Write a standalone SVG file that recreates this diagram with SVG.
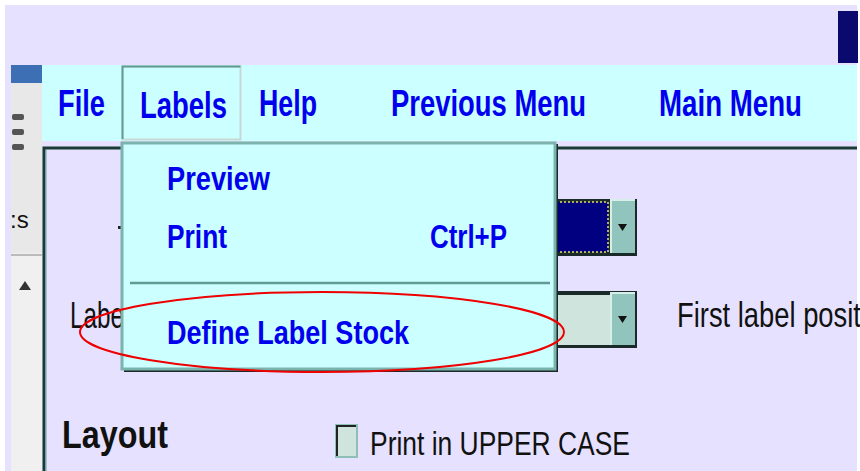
<svg xmlns="http://www.w3.org/2000/svg" width="860" height="471" viewBox="0 0 860 471">
<defs>
<style>
.menu{font-family:"Liberation Sans",Arial,sans-serif;font-weight:bold;fill:#0000EE;}
.lbl{font-family:"Liberation Sans",Arial,sans-serif;fill:#111;}
</style>
</defs>
<rect x="0" y="0" width="860" height="471" fill="#FFFFFF"/>
<rect x="5" y="5" width="852" height="466" fill="#E6E1FE"/>
<g id="top-right-block"><rect x="838" y="11" width="20" height="52" fill="#0A0A6E"/></g>
<g id="left-strip">
<rect x="11" y="65" width="31" height="406" fill="#F0F0F0"/>
<rect x="11" y="65" width="31" height="18" fill="#3C6FB4"/>
<rect x="11" y="83" width="31" height="170" fill="#E8E8E8"/>
<rect x="12" y="114" width="12" height="6" rx="2" fill="#555"/>
<rect x="12" y="129" width="12" height="6" rx="2" fill="#555"/>
<rect x="12" y="144" width="12" height="6" rx="2" fill="#555"/>
<text x="10" y="228" class="lbl" font-size="24" fill="#333">:s</text>
<line x1="11" y1="255" x2="42" y2="255" stroke="#BBB" stroke-width="2"/>
<path d="M19 290 L25 281 L31 290 Z" fill="#333"/>
</g>
<g id="menubar">
<rect x="42" y="65" width="815" height="76" fill="#CCFFFF"/>
<rect x="122.5" y="66.5" width="118" height="73" fill="#CCFFFF" stroke="#C8D8D4" stroke-width="2"/>
<path d="M122.5 139 V66.5 H240.5" fill="none" stroke="#5E9C94" stroke-width="2"/>
<text x="58" y="116" class="menu" font-size="36" textLength="47" lengthAdjust="spacingAndGlyphs">File</text>
<text x="140" y="118" class="menu" font-size="36" textLength="87" lengthAdjust="spacingAndGlyphs">Labels</text>
<text x="259" y="116" class="menu" font-size="36" textLength="58" lengthAdjust="spacingAndGlyphs">Help</text>
<text x="391" y="116" class="menu" font-size="36" textLength="195" lengthAdjust="spacingAndGlyphs">Previous Menu</text>
<text x="659" y="116" class="menu" font-size="36" textLength="143" lengthAdjust="spacingAndGlyphs">Main Menu</text>
</g>
<g id="panel">
<path d="M44 471 V148 H857" fill="none" stroke="#1A3A36" stroke-width="3"/>
<line x1="46" y1="150" x2="46" y2="471" stroke="#6FA8A0" stroke-width="1"/>
<rect x="118" y="226" width="4" height="3" fill="#222"/>
<text x="70" y="328" class="lbl" font-size="36" textLength="54" lengthAdjust="spacingAndGlyphs">Labe</text>
<text x="677" y="327" class="lbl" font-size="35" textLength="190" lengthAdjust="spacingAndGlyphs">First label positi</text>
<text x="62" y="448" class="lbl" font-size="38" font-weight="bold" textLength="106" lengthAdjust="spacingAndGlyphs" fill="#000">Layout</text>
<rect x="336" y="425" width="21" height="32" fill="#D0E4DE" stroke="#8FC0B8" stroke-width="2"/>
<path d="M337 456 V426 H356" fill="none" stroke="#222" stroke-width="2"/>
<text x="370" y="455" class="lbl" font-size="34" textLength="260" lengthAdjust="spacingAndGlyphs">Print in UPPER CASE</text>
</g>
<g id="dropdown-1">
<rect x="540" y="199" width="97" height="57" fill="#1A2A28"/>
<rect x="540" y="202" width="68" height="50" fill="#000080" stroke="#E8E070" stroke-width="1.5" stroke-dasharray="2 2"/>
<rect x="611" y="200" width="24" height="53" fill="#90C4BC"/>
<path d="M611 253 V200 H635" fill="none" stroke="#D8EEEA" stroke-width="2"/>
<path d="M618 224 H627 L622.5 231 Z" fill="#111"/>
</g>
<g id="dropdown-2">
<rect x="540" y="291" width="97" height="57" fill="#1A2A28"/>
<rect x="540" y="295" width="70" height="50" fill="#D0E4DE"/>
<rect x="611" y="293" width="24" height="52" fill="#90C4BC"/>
<path d="M611 345 V293 H635" fill="none" stroke="#D8EEEA" stroke-width="2"/>
<path d="M618 316 H627 L622.5 323 Z" fill="#111"/>
</g>
<g id="labels-menu">
<rect x="124" y="144" width="434" height="228" fill="#1A2A28"/>
<rect x="122" y="143" width="433" height="226" fill="#CCFFFF" stroke="#7AB4AC" stroke-width="3"/>
<line x1="130" y1="283" x2="550" y2="283" stroke="#5E9C94" stroke-width="2.5"/>
<text x="167" y="190" class="menu" font-size="33" textLength="103" lengthAdjust="spacingAndGlyphs">Preview</text>
<text x="167" y="248" class="menu" font-size="33" textLength="60" lengthAdjust="spacingAndGlyphs">Print</text>
<text x="430" y="248" class="menu" font-size="33" textLength="77" lengthAdjust="spacingAndGlyphs">Ctrl+P</text>
<text x="167" y="344" class="menu" font-size="33" textLength="242" lengthAdjust="spacingAndGlyphs">Define Label Stock</text>
</g>
<g id="highlight">
<ellipse cx="322" cy="332" rx="242" ry="40" fill="none" stroke="#EE0000" stroke-width="2"/>
</g>
</svg>
